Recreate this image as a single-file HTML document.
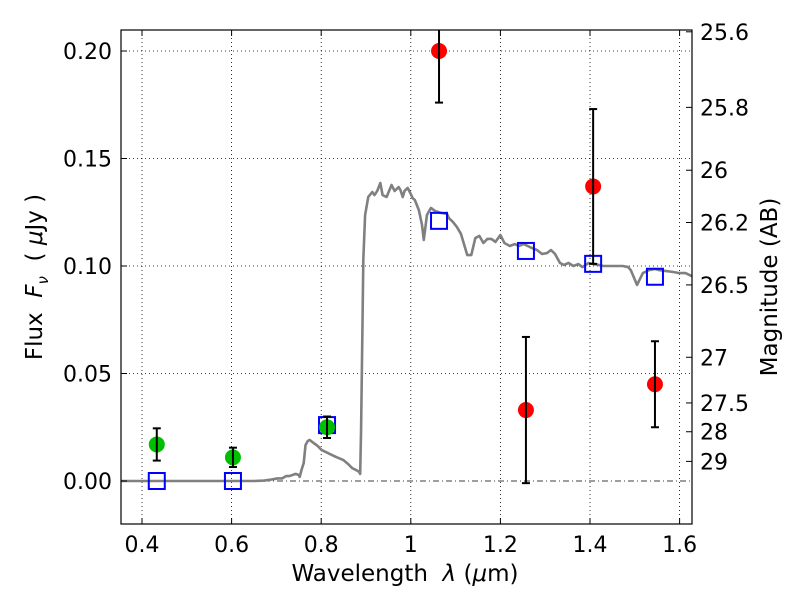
<!DOCTYPE html>
<html><head><meta charset="utf-8"><style>body{margin:0;background:#fff}svg text{font-family:"DejaVu Sans","Liberation Sans",sans-serif}</style></head>
<body>
<svg id="c" width="800" height="600" xmlns="http://www.w3.org/2000/svg"></svg>
<script>
const sedLam=[0.348,0.650,0.673,0.689,0.702,0.713,0.722,0.729,0.743,0.750,0.752,0.756,0.761,0.765,0.770,0.774,0.783,0.792,0.801,0.810,0.819,0.833,0.849,0.860,0.869,0.878,0.885,0.887,0.889,0.892,0.894,0.898,0.905,0.914,0.919,0.925,0.932,0.937,0.946,0.957,0.964,0.973,0.977,0.982,0.986,0.993,1.000,1.004,1.009,1.018,1.025,1.029,1.036,1.045,1.054,1.067,1.081,1.085,1.094,1.103,1.112,1.126,1.135,1.144,1.153,1.162,1.171,1.180,1.189,1.200,1.209,1.221,1.232,1.241,1.252,1.261,1.270,1.282,1.293,1.304,1.313,1.322,1.333,1.342,1.352,1.363,1.374,1.383,1.397,1.408,1.419,1.430,1.446,1.460,1.473,1.485,1.491,1.505,1.518,1.532,1.545,1.554,1.568,1.586,1.599,1.613,1.627,1.636];
const sedFlux=[0,0,0.0002,0.0007,0.0012,0.0012,0.0023,0.0023,0.0033,0.0028,0.0019,0.0051,0.0084,0.0167,0.0186,0.0191,0.0177,0.0163,0.0144,0.0135,0.0126,0.0112,0.0098,0.0079,0.0060,0.0051,0.0042,0.0033,0.0237,0.0702,0.1028,0.1237,0.1321,0.1344,0.1330,0.1349,0.1386,0.1330,0.1321,0.1377,0.1349,0.1367,0.1353,0.1321,0.1349,0.1363,0.1335,0.1316,0.1307,0.1260,0.1191,0.1121,0.1237,0.1270,0.1256,0.1247,0.1242,0.1223,0.1205,0.1181,0.1149,0.1051,0.1051,0.1130,0.1140,0.1107,0.1126,0.1126,0.1112,0.1144,0.1107,0.1093,0.1102,0.1093,0.1102,0.1093,0.1084,0.1074,0.1056,0.1060,0.1074,0.1056,0.1014,0.1005,0.1014,0.1000,0.1009,0.0995,0.1014,0.1009,0.1005,0.1000,0.1000,0.1000,0.1000,0.0995,0.0981,0.0912,0.0967,0.0981,0.0986,0.0981,0.0977,0.0972,0.0967,0.0967,0.0953,0.0944];
const greenLam=[0.433,0.603,0.813];
const greenFlux=[0.017,0.011,0.025];
const greenErr=[0.0075,0.0045,0.005];
const redLam=[1.063,1.257,1.407,1.545];
const redFlux=[0.200,0.033,0.137,0.045];
const redErr=[0.024,0.034,0.036,0.020];
const modelLam=[0.433,0.603,0.813,1.063,1.257,1.407,1.545];
const modelFlux=[0,0,0.026,0.121,0.107,0.101,0.095];
const xTicks=[0.4,0.6,0.8,1.0,1.2,1.4,1.6];
const xTickLabels=["0.4","0.6","0.8","1","1.2","1.4","1.6"];
const yTicks=[0,0.05,0.10,0.15,0.20];
const yTickLabels=["0.00","0.05","0.10","0.15","0.20"];
const magTicks=[25.6,25.8,26,26.2,26.5,27,27.5,28,29];
const magLabels=["25.6","25.8","26","26.2","26.5","27","27.5","28","29"];

const L=121,R=692,T=30,B=524;
const X=v=>142+(v-0.4)*448;
const Y=v=>481-v*2150;
const svg=document.getElementById('c');
const NS='http://www.w3.org/2000/svg';
function mk(t,a,p){const e=document.createElementNS(NS,t);for(const k in a)e.setAttribute(k,a[k]);(p||svg).appendChild(e);return e;}
const clip=mk('clipPath',{id:'pc'});mk('rect',{x:L,y:T,width:R-L,height:B-T},clip);
const plot=mk('g',{'clip-path':'url(#pc)'});


xTicks.forEach(v=>{const l=mk('line',{x1:X(v),x2:X(v),y1:T,y2:B,stroke:'#000','stroke-width':0.8,'stroke-dasharray':'1,3'},plot);

});
yTicks.forEach(v=>{if(v===0)return;const l=mk('line',{x1:L,x2:R,y1:Y(v),y2:Y(v),stroke:'#000','stroke-width':0.8,'stroke-dasharray':'1,3'},plot);

});
const zl=mk('line',{x1:L,x2:R,y1:Y(0),y2:Y(0),stroke:'#000','stroke-width':0.8,'stroke-dasharray':'6,3,1,3'},plot);


const sp=mk('polyline',{points:sedLam.map((v,i)=>X(v)+','+Y(sedFlux[i])).join(' '),fill:'none',stroke:'#808080','stroke-width':2.6,'stroke-linejoin':'round'},plot);


modelLam.forEach((v,i)=>{const r=mk('rect',{x:X(v)-8,y:Y(modelFlux[i])-8,width:16,height:16,fill:'none',stroke:'#0000ff','stroke-width':2},plot);

});
function pts(lam,fl,er,col,name){lam.forEach((v,i)=>{const g=mk('g',{},plot);


const x=X(v);mk('circle',{cx:x,cy:Y(fl[i]),r:8,fill:col},g);
const y1=Y(fl[i]+er[i]),y2=Y(fl[i]-er[i]);
mk('line',{x1:x,x2:x,y1:y1,y2:y2,stroke:'#000','stroke-width':2},g);
mk('line',{x1:x-4,x2:x+4,y1:y1,y2:y1,stroke:'#000','stroke-width':2},g);
mk('line',{x1:x-4,x2:x+4,y1:y2,y2:y2,stroke:'#000','stroke-width':2},g);});}
pts(greenLam,greenFlux,greenErr,'#00bf00','detection-point');
pts(redLam,redFlux,redErr,'#ff0000','upper-point');
const fr=mk('rect',{x:L,y:T,width:R-L,height:B-T,fill:'none',stroke:'#000','stroke-width':1.2});


xTicks.forEach((v,i)=>{const x=X(v);mk('line',{x1:x,x2:x,y1:B,y2:B-6,stroke:'#000'});mk('line',{x1:x,x2:x,y1:T,y2:T+6,stroke:'#000'});
const t=mk('text',{x:x,y:B+28,'font-size':22,'text-anchor':'middle'});t.textContent=xTickLabels[i];

});
yTicks.forEach((v,i)=>{const y=Y(v);mk('line',{x1:L,x2:L+6,y1:y,y2:y,stroke:'#000'});
const t=mk('text',{x:L-9,y:y+8,'font-size':22,'text-anchor':'end'});t.textContent=yTickLabels[i];

});
magTicks.forEach((m,i)=>{const y=Y(Math.pow(10,(23.9-m)/2.5));mk('line',{x1:R,x2:R-6,y1:y,y2:y,stroke:'#000'});
const t=mk('text',{x:R+8,y:y+8,'font-size':22});t.textContent=magLabels[i];

});
</script>
<div style="position:absolute;left:0;top:0;width:800px;height:600px;pointer-events:none;font-family:'DejaVu Sans','Liberation Sans',sans-serif">
<div style="position:absolute;left:405px;top:574px;font-size:23px;white-space:nowrap;transform:translate(-50%,-50%)">Wavelength&nbsp; <i>λ</i> (<i>μ</i>m)</div>
<div style="position:absolute;left:37px;top:277px;font-size:23px;white-space:nowrap;transform:translate(-50%,-50%) rotate(-90deg)">Flux&nbsp; <i>F<sub style="font-size:15px">ν</sub></i>&nbsp; ( <i>μ</i>Jy )</div>
<div style="position:absolute;left:770px;top:287px;font-size:23px;white-space:nowrap;transform:translate(-50%,-50%) rotate(-90deg)">Magnitude (AB)</div>
</div>
</body></html>
